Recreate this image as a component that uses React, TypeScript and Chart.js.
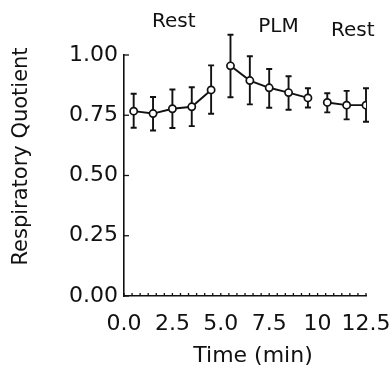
import React, { useEffect, useRef } from 'react';
import { Chart, registerables } from 'chart.js';

Chart.register(...registerables);

// ---- data ----
const times = [0.5, 1.5, 2.5, 3.5, 4.5, 5.5, 6.5, 7.5, 8.5, 9.5, 10.5, 11.5, 12.5];
const rq = [0.767, 0.757, 0.777, 0.785, 0.855, 0.955, 0.894, 0.864, 0.844, 0.822, 0.803, 0.792, 0.792];
const errHigh = [0.839, 0.826, 0.857, 0.866, 0.957, 1.084, 0.995, 0.942, 0.912, 0.862, 0.841, 0.851, 0.862];
const errLow = [0.698, 0.687, 0.697, 0.705, 0.756, 0.825, 0.795, 0.781, 0.773, 0.782, 0.762, 0.733, 0.723];
const phase = [0, 0, 0, 0, 0, 1, 1, 1, 1, 1, 2, 2, 2];

const xTickValues = [0, 2.5, 5, 7.5, 10, 12.5];
const xTickLabels = ['0.0', '2.5', '5.0', '7.5', '10', '12.5'];
const yTickValues = [0, 0.25, 0.5, 0.75, 1.0];
const yTickLabels = ['0.00', '0.25', '0.50', '0.75', '1.00'];
const xMinorTickCount = 30;

const xTitle = 'Time (min)';
const yTitle = 'Respiratory Quotient';

const phaseLabels = ['Rest', 'PLM', 'Rest'];
const phaseLabelX = [2.57, 7.98, 11.82];
const phaseLabelY = [1.115, 1.094, 1.08];

const FONT = "'DejaVu Sans', sans-serif";
const INK = '#111';

const extrasPlugin = {
  id: 'rqExtras',
  beforeDatasetsDraw(chart: any) {
    const { ctx, scales } = chart;
    const x = scales.x;
    const y = scales.y;
    ctx.save();
    ctx.strokeStyle = INK;
    ctx.lineWidth = 1.9;
    times.forEach((t, i) => {
      const px = x.getPixelForValue(t);
      const top = y.getPixelForValue(errHigh[i]);
      const bot = y.getPixelForValue(errLow[i]);
      ctx.beginPath();
      ctx.moveTo(px, top);
      ctx.lineTo(px, bot);
      ctx.moveTo(px - 3, top);
      ctx.lineTo(px + 3, top);
      ctx.moveTo(px - 3, bot);
      ctx.lineTo(px + 3, bot);
      ctx.stroke();
    });
    ctx.restore();
  },
  afterDraw(chart: any) {
    const { ctx, scales, chartArea } = chart;
    const x = scales.x;
    const y = scales.y;
    ctx.save();
    ctx.strokeStyle = INK;
    ctx.lineWidth = 1.3;
    // inward y ticks
    yTickValues.forEach((v) => {
      const py = y.getPixelForValue(v);
      ctx.beginPath();
      ctx.moveTo(chartArea.left, py);
      ctx.lineTo(chartArea.left + 5, py);
      ctx.stroke();
    });
    // inward x minor ticks
    const xmin = x.min;
    const xmax = x.max;
    for (let i = 0; i <= xMinorTickCount; i++) {
      const v = xmin + ((xmax - xmin) * i) / xMinorTickCount;
      const px = x.getPixelForValue(v);
      ctx.beginPath();
      ctx.moveTo(px, chartArea.bottom);
      ctx.lineTo(px, chartArea.bottom - 3);
      ctx.stroke();
    }
    ctx.fillStyle = INK;
    // phase labels
    ctx.font = `20px ${FONT}`;
    ctx.textAlign = 'center';
    ctx.textBaseline = 'alphabetic';
    phaseLabels.forEach((lab, i) => {
      ctx.fillText(lab, x.getPixelForValue(phaseLabelX[i]), y.getPixelForValue(phaseLabelY[i]));
    });
    // x title
    ctx.font = `22px ${FONT}`;
    ctx.textBaseline = 'middle';
    ctx.fillText(xTitle, (chartArea.left + chartArea.right) / 2 + 8, chart.height - 18);
    // y title
    ctx.font = `21px ${FONT}`;
    ctx.translate(22, (chartArea.top + chartArea.bottom) / 2 - 19);
    ctx.rotate(-Math.PI / 2);
    ctx.fillText(yTitle, 0, 0);
    ctx.restore();
  },
};

export default function App() {
  const ref = useRef<HTMLCanvasElement>(null);

  useEffect(() => {
    document.body.style.margin = '0';
    const canvas = ref.current;
    if (!canvas) return;
    const chart = new Chart(canvas, {
      type: 'line',
      data: {
        datasets: [
          {
            data: times.map((t, i) => ({ x: t, y: rq[i] })),
            borderColor: INK,
            borderWidth: 1.9,
            pointRadius: 3.6,
            pointBorderWidth: 1.7,
            pointBackgroundColor: '#fff',
            pointBorderColor: INK,
            fill: false,
            tension: 0,
            segment: {
              borderColor: (c: any) =>
                phase[c.p0DataIndex] !== phase[c.p1DataIndex] ? 'rgba(0,0,0,0)' : INK,
            },
          },
        ],
      },
      options: {
        responsive: false,
        animation: false,
        devicePixelRatio: 1,
        layout: { padding: { left: 0, right: 26, top: 55, bottom: 0 } },
        plugins: {
          legend: { display: false },
          tooltip: { enabled: false },
        },
        scales: {
          x: {
            type: 'linear',
            min: 0,
            max: 12.5,
            afterBuildTicks: (s: any) => {
              s.ticks = xTickValues.map((v) => ({ value: v }));
            },
            afterFit: (s: any) => {
              s.height = 78;
              s.paddingLeft = 0;
              s.paddingRight = 0;
            },
            grid: { display: false, drawTicks: false },
            border: { display: true, color: INK, width: 1.6 },
            ticks: {
              autoSkip: false,
              maxRotation: 0,
              padding: 15,
              color: INK,
              font: { family: FONT, size: 22 },
              callback: (v: any) => {
                const idx = xTickValues.indexOf(Number(v));
                return idx >= 0 ? xTickLabels[idx] : '';
              },
            },
          },
          y: {
            type: 'linear',
            min: 0,
            max: 1,
            afterBuildTicks: (s: any) => {
              s.ticks = yTickValues.map((v) => ({ value: v }));
            },
            afterFit: (s: any) => {
              s.width = 124;
              s.paddingTop = 0;
              s.paddingBottom = 0;
            },
            grid: { display: false, drawTicks: false },
            border: { display: true, color: INK, width: 1.6 },
            ticks: {
              padding: 6,
              color: INK,
              font: { family: FONT, size: 22 },
              callback: (v: any) => {
                const idx = yTickValues.indexOf(Number(v));
                return idx >= 0 ? yTickLabels[idx] : '';
              },
            },
          },
        },
      },
      plugins: [extrasPlugin],
    });
    return () => chart.destroy();
  }, []);

  return (
    <div style={{ width: 392, height: 374 }}>
      <canvas ref={ref} width={392} height={374} style={{ display: 'block' }} />
    </div>
  );
}
